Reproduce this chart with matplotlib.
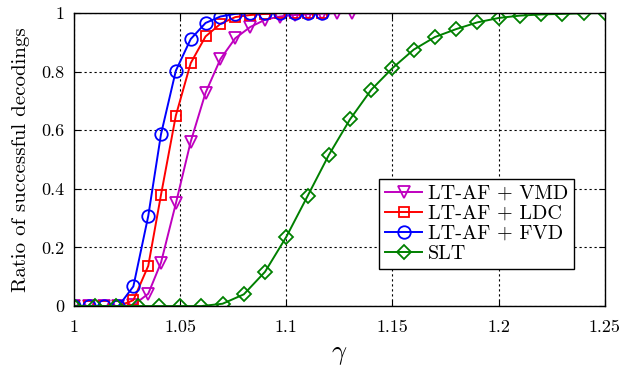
import matplotlib
matplotlib.use("Agg")
import matplotlib.pyplot as plt

plt.rcParams["font.family"] = "serif"
plt.rcParams["font.serif"] = ["cmr10", "DejaVu Serif"]
plt.rcParams["mathtext.fontset"] = "cm"
plt.rcParams["axes.formatter.use_mathtext"] = True

# gamma grid for the LT-AF curves
gamma_af = [1.000, 1.007, 1.014, 1.021, 1.028, 1.035, 1.041, 1.048, 1.055, 1.062,
            1.069, 1.076, 1.083, 1.090, 1.097, 1.104, 1.110, 1.117, 1.124, 1.131]
vmd = [0, 0, 0, 0, 0.003, 0.042, 0.148, 0.35, 0.561, 0.728,
       0.843, 0.914, 0.952, 0.977, 0.988, 0.993, 0.996, 0.998, 1.0, 1.0]
ldc = [0, 0, 0, 0, 0.02, 0.137, 0.379, 0.650, 0.829, 0.92,
       0.963, 0.986, 0.993, 0.997, 1.0, 1.0, 1.0, 1.0]
fvd = [0, 0, 0, 0, 0.067, 0.307, 0.586, 0.803, 0.911, 0.966,
       0.988, 0.997, 1.0, 1.0, 1.0, 1.0, 1.0, 1.0]

# gamma grid for SLT
gamma_slt = [1.00, 1.01, 1.02, 1.03, 1.04, 1.05, 1.06, 1.07, 1.08, 1.09, 1.10, 1.11, 1.12,
             1.13, 1.14, 1.15, 1.16, 1.17, 1.18, 1.19, 1.20, 1.21, 1.22, 1.23, 1.24, 1.25]
slt = [0, 0, 0, 0, 0, 0, 0, 0.008, 0.04, 0.117, 0.236, 0.375, 0.515,
       0.637, 0.738, 0.812, 0.875, 0.918, 0.945, 0.968, 0.983, 0.991, 0.995, 0.997, 0.999, 1.0]

xticks = [1, 1.05, 1.1, 1.15, 1.2, 1.25]
xtick_labels = ["1", "1.05", "1.1", "1.15", "1.2", "1.25"]
yticks = [0, 0.2, 0.4, 0.6, 0.8, 1]
ytick_labels = ["0", "0.2", "0.4", "0.6", "0.8", "1"]

fig = plt.figure(figsize=(6.21, 3.71), dpi=100)
ax = fig.add_axes([0.119, 0.175, 0.855, 0.79])

mk = dict(markersize=9, markerfacecolor="none", markeredgewidth=1.3, linewidth=1.4)
ax.plot(gamma_af, vmd, marker="v", color="#bf00bf", label="LT-AF + VMD", **mk)
ax.plot(gamma_af[:len(ldc)], ldc, marker="s", color="#ff0000", label="LT-AF + LDC",
        markersize=7.5, markerfacecolor="none", markeredgewidth=1.3, linewidth=1.4)
ax.plot(gamma_af[:len(fvd)], fvd, marker="o", color="#0000ff", label="LT-AF + FVD", **mk)
ax.plot(gamma_slt, slt, marker="D", color="#008000", label="SLT",
        markersize=7.5, markerfacecolor="none", markeredgewidth=1.3, linewidth=1.4)

ax.set_xlim(1, 1.25)
ax.set_ylim(0, 1)
ax.set_xticks(xticks)
ax.set_xticklabels(xtick_labels)
ax.set_yticks(yticks)
ax.set_yticklabels(ytick_labels)
ax.tick_params(direction="in", top=True, right=True, labelsize=13, length=4)
ax.tick_params(axis="x", pad=10)
ax.tick_params(axis="y", pad=7)
ax.grid(True, color="black", linestyle=(0, (2, 2.5)), linewidth=0.8)
for s in ax.spines.values():
    s.set_linewidth(1.0)

ax.set_xlabel(r"$\gamma$", fontsize=19, labelpad=6)
ax.set_ylabel("Ratio of successful decodings", fontsize=15, labelpad=8)

leg = ax.legend(loc="lower right", bbox_to_anchor=(0.942, 0.126), fontsize=14.5,
                fancybox=False, framealpha=1, edgecolor="black", borderpad=0.3,
                labelspacing=0.1, handlelength=1.8, handletextpad=0.3, borderaxespad=0)
leg.get_frame().set_linewidth(1.0)

fig.savefig("out.png", dpi=100)
